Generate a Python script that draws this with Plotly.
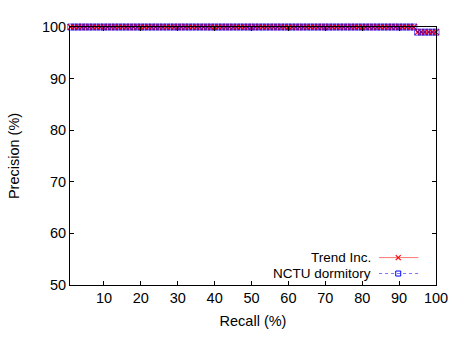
import plotly.graph_objects as go

recall = [1, 2, 3, 4, 5, 6, 7, 8, 9, 10, 11, 12, 13, 14, 15, 16, 17, 18, 19, 20,
          21, 22, 23, 24, 25, 26, 27, 28, 29, 30, 31, 32, 33, 34, 35, 36, 37, 38, 39, 40,
          41, 42, 43, 44, 45, 46, 47, 48, 49, 50, 51, 52, 53, 54, 55, 56, 57, 58, 59, 60,
          61, 62, 63, 64, 65, 66, 67, 68, 69, 70, 71, 72, 73, 74, 75, 76, 77, 78, 79, 80,
          81, 82, 83, 84, 85, 86, 87, 88, 89, 90, 91, 92, 93, 94, 95, 96, 97, 98, 99, 100]
trend_precision = [100] * 20 + [100] * 20 + [100] * 20 + [100] * 20 + \
    [100, 100, 100, 100, 100, 100, 100, 100, 100, 100, 100, 100, 100, 100,
     99, 99, 99, 99, 99, 99]
nctu_precision = [100] * 20 + [100] * 20 + [100] * 20 + [100] * 20 + \
    [100, 100, 100, 100, 100, 100, 100, 100, 100, 100, 100, 100, 100, 100,
     99, 99, 99, 99, 99, 99]
series_names = ["Trend Inc.", "NCTU dormitory"]
x_ticks = [10, 20, 30, 40, 50, 60, 70, 80, 90, 100]
y_ticks = [50, 60, 70, 80, 90, 100]

RED = "rgb(255,0,0)"
BLUE = "rgb(0,0,255)"
FONT = "Liberation Sans, Arial, sans-serif"
FS = 14.5

fig = go.Figure()
fig.add_trace(go.Scatter(
    x=recall, y=trend_precision, name=series_names[0], mode="lines+markers",
    line=dict(color=RED, width=1),
    marker=dict(symbol="x-thin-open", size=6, line=dict(color=RED, width=1.2), color=RED),
    cliponaxis=False, showlegend=False))
fig.add_trace(go.Scatter(
    x=recall, y=nctu_precision, name=series_names[1], mode="lines+markers",
    line=dict(color=BLUE, width=1, dash="dot"),
    marker=dict(symbol="square-open", size=6, line=dict(color=BLUE, width=1), color=BLUE),
    opacity=0.6, cliponaxis=False, showlegend=False))

L, R, T, B = 70, 17, 27, 53
W, H = 460, 339
pw, ph = W - L - R, H - T - B

def px(xp):
    return (xp - L) / pw

def py(yp):
    return (H - B - yp) / ph

shapes = []
annotations = []
legend_rows = [(series_names[0], 258.5, "rgba(255,0,0,0.55)", RED, "solid", "x"),
               (series_names[1], 274.5, "rgba(0,0,255,0.55)", BLUE, "dot", "sq")]
for name, ypix, lcol, col, dash, mk in legend_rows:
    yy = py(ypix)
    annotations.append(dict(text=name, x=px(378), y=yy, xref="paper", yref="paper",
                            xanchor="right", yanchor="middle", showarrow=False,
                            borderpad=0,
                            font=dict(family=FONT, size=13.5, color="black")))
    shapes.append(dict(type="line", xref="paper", yref="paper", x0=px(385), x1=px(425),
                       y0=yy, y1=yy, line=dict(color=lcol, width=1, dash=dash)))
    cx = px(404.5)
    if mk == "sq":
        shapes.append(dict(type="rect", xref="paper", yref="paper", xsizemode="pixel",
                           ysizemode="pixel", xanchor=cx, yanchor=yy, x0=-2.5, x1=2.5,
                           y0=-2.5, y1=2.5, line=dict(color=col, width=1)))
    else:
        shapes.append(dict(type="line", xref="paper", yref="paper", xsizemode="pixel",
                           ysizemode="pixel", xanchor=cx, yanchor=yy, x0=-2.5, x1=2.5,
                           y0=-2.5, y1=2.5, line=dict(color=col, width=1.2)))
        shapes.append(dict(type="line", xref="paper", yref="paper", xsizemode="pixel",
                           ysizemode="pixel", xanchor=cx, yanchor=yy, x0=-2.5, x1=2.5,
                           y0=2.5, y1=-2.5, line=dict(color=col, width=1.2)))

axis_common = dict(showline=True, linecolor="black", linewidth=1, mirror="ticks",
                   ticks="inside", ticklen=4, tickcolor="black", tickwidth=1,
                   showgrid=False, zeroline=False,
                   tickfont=dict(family=FONT, size=FS, color="black"))

fig.update_layout(
    width=W, height=H, margin=dict(l=L, r=R, t=T, b=B),
    paper_bgcolor="white", plot_bgcolor="white",
    font=dict(family=FONT, size=FS, color="black"),
    xaxis=dict(range=[0.8, 100], tickvals=x_ticks,
               title=dict(text="Recall (%)", font=dict(family=FONT, size=FS), standoff=10),
               **axis_common),
    yaxis=dict(range=[50, 100], tickvals=y_ticks,
               title=dict(text="Precision (%)", font=dict(family=FONT, size=FS), standoff=18),
               **axis_common),
    shapes=shapes, annotations=annotations,
)

fig.write_html("out.html")
